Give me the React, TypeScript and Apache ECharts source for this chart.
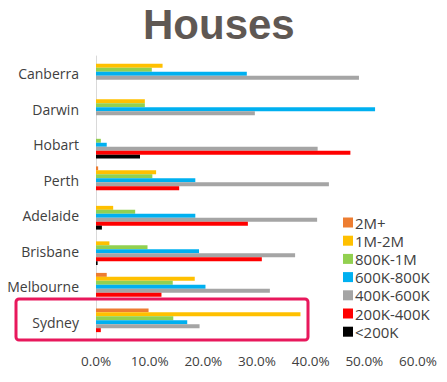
import React, { useEffect, useRef } from "react";
import * as echarts from "echarts";

const cities = ["Canberra", "Darwin", "Hobart", "Perth", "Adelaide", "Brisbane", "Melbourne", "Sydney"];
const seriesNames = ["2M+", "1M-2M", "800K-1M", "600K-800K", "400K-600K", "200K-400K", "<200K"];
const colors = ["#ED7D31", "#FFC000", "#92D050", "#00B0F0", "#A5A5A5", "#FF0000", "#000000"];

// values in percent, per city (same order as cities)
const v2Mplus = [0, 0, 0, 0.4, 0, 0, 2.0, 9.8];
const v1M2M = [12.4, 9.1, 0, 11.2, 3.2, 2.5, 18.4, 38.1];
const v800K1M = [10.4, 9.1, 0.9, 10.5, 7.3, 9.6, 14.3, 14.4];
const v600K800K = [28.1, 52.0, 2.0, 18.5, 18.5, 19.2, 20.4, 17.0];
const v400K600K = [49.0, 29.6, 41.3, 43.4, 41.2, 37.1, 32.4, 19.3];
const v200K400K = [0, 0, 47.4, 15.5, 28.3, 30.9, 12.2, 0.9];
const vUnder200K = [0, 0, 8.2, 0, 1.1, 0.3, 0, 0];

const allValues = [v2Mplus, v1M2M, v800K1M, v600K800K, v400K600K, v200K400K, vUnder200K];

const xTicks = [0, 10, 20, 30, 40, 50, 60];

export default function App() {
  const ref = useRef<HTMLDivElement>(null);
  useEffect(() => {
    if (!ref.current) return;
    const chart = echarts.init(ref.current, null, { renderer: "svg" });
    const font = "'Open Sans', 'Liberation Sans', sans-serif";
    chart.setOption({
      animation: false,
      backgroundColor: "#ffffff",
      title: {
        text: "Houses",
        left: 143,
        top: 0,
        padding: [0, 0, 0, 0],
        textStyle: {
          fontSize: 42,
          fontWeight: "bold",
          color: "#5f5853",
          fontFamily: "'Liberation Sans', Arial, sans-serif",
          lineHeight: 48,
        },
      },
      legend: {
        orient: "vertical",
        left: 338,
        top: 210,
        itemWidth: 10,
        itemHeight: 10,
        itemGap: 3.2,
        icon: "rect",
        data: seriesNames,
        textStyle: {
          fontSize: 15,
          lineHeight: 15,
          height: 15,
          color: "#404040",
          fontFamily: font,
          padding: [0, 0, 0, -3],
        },
      },
      grid: { left: 96, right: 29, top: 56, bottom: 42 },
      xAxis: {
        type: "value",
        min: xTicks[0],
        max: xTicks[xTicks.length - 1],
        interval: 10,
        splitLine: { show: false },
        axisLine: { show: false },
        axisTick: { show: false },
        axisLabel: {
          formatter: (v: number) => v.toFixed(1) + "%",
          fontSize: 13.5,
          color: "#404040",
          fontFamily: font,
          margin: 14,
        },
      },
      yAxis: {
        type: "category",
        data: cities,
        inverse: true,
        axisLine: { show: true, lineStyle: { color: "#d9d9d9", width: 1 } },
        axisTick: { show: false },
        axisLabel: { fontSize: 14, color: "#404040", fontFamily: font, margin: 17 },
      },
      series: seriesNames.map((name, i) => ({
        name,
        type: "bar",
        data: allValues[i],
        itemStyle: { color: colors[i] },
        barGap: "0%",
        barCategoryGap: "22%",
      })),
      graphic: [
        {
          type: "rect",
          shape: { x: 16, y: 299, width: 292, height: 41, r: 3 },
          style: { fill: "none", stroke: "#E8185C", lineWidth: 3 },
          z: 100,
        },
      ],
    });
    return () => chart.dispose();
  }, []);
  return <div ref={ref} style={{ width: 447, height: 382, position: "absolute", left: 0, top: 0 }} />;
}
